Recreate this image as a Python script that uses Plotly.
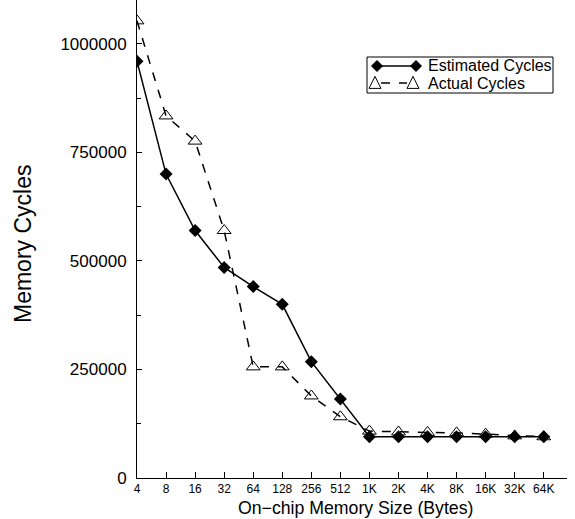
import plotly.graph_objects as go

sizes = ["4", "8", "16", "32", "64", "128", "256", "512", "1K", "2K", "4K", "8K", "16K", "32K", "64K"]
estimated = [960000, 700000, 570000, 485000, 441000, 400000, 268000, 182000, 95000, 95000, 95000, 95000, 95000, 95000, 95000]
actual = [1053000, 834000, 776000, 570000, 256000, 256000, 189000, 141000, 108000, 106000, 105000, 104000, 101000, 97000, 95000]
series_names = ["Estimated Cycles", "Actual Cycles"]

xpos = list(range(len(sizes)))

fig = go.Figure()
fig.add_trace(go.Scatter(
    x=xpos, y=estimated, name=series_names[0], mode="lines+markers",
    line=dict(color="black", width=1.5),
    marker=dict(symbol="diamond", size=10, color="black"),
    showlegend=False,
))
fig.add_trace(go.Scatter(
    x=xpos, y=actual, name=series_names[1], mode="lines+markers",
    line=dict(color="black", width=1.5, dash="dash"),
    marker=dict(symbol="triangle-up-open", size=12, color="black", line=dict(width=1)),
    showlegend=False,
))

# plot area in pixels: left 137, right 567, top 0, bottom 478
PL, PR, PT, PB = 137, 567, 0, 478
def px(X):
    return (X - PL) / (PR - PL)
def py(Y):
    return (PB - Y) / (PB - PT)

shapes = []
# legend box
shapes.append(dict(type="rect", xref="paper", yref="paper",
                   x0=px(367), x1=px(553), y0=py(93), y1=py(57),
                   line=dict(color="black", width=1), fillcolor="white", layer="above"))
# row 1: solid line with diamonds
shapes.append(dict(type="line", xref="paper", yref="paper",
                   x0=px(377), x1=px(416), y0=py(66), y1=py(66),
                   line=dict(color="black", width=1.5), layer="above"))
for cx in (377, 416):
    d = 5.5
    path = (f"M {px(cx-d)} {py(66)} L {px(cx)} {py(66-d)} L {px(cx+d)} {py(66)} "
            f"L {px(cx)} {py(66+d)} Z")
    shapes.append(dict(type="path", xref="paper", yref="paper", path=path,
                       fillcolor="black", line=dict(color="black", width=1), layer="above"))
# row 2: dashed line with open triangles
shapes.append(dict(type="line", xref="paper", yref="paper",
                   x0=px(381), x1=px(407), y0=py(83), y1=py(83),
                   line=dict(color="black", width=1.5, dash="dash"), layer="above"))
for cx in (375, 413):
    h = 6
    path = (f"M {px(cx-h)} {py(83+h*0.9)} L {px(cx+h)} {py(83+h*0.9)} "
            f"L {px(cx)} {py(83-h*1.1)} Z")
    shapes.append(dict(type="path", xref="paper", yref="paper", path=path,
                       fillcolor="white", line=dict(color="black", width=1), layer="above"))

font = "Liberation Sans, Arial, sans-serif"
annotations = [
    dict(text=series_names[0], xref="paper", yref="paper", x=px(426), y=py(66),
         xanchor="left", yanchor="middle", showarrow=False, font=dict(size=16)),
    dict(text=series_names[1], xref="paper", yref="paper", x=px(426), y=py(83),
         xanchor="left", yanchor="middle", showarrow=False, font=dict(size=16)),
    dict(text="On\u2212chip Memory Size (Bytes)", xref="paper", yref="paper",
         x=px(355), y=py(507.5), xanchor="center", yanchor="middle",
         showarrow=False, font=dict(size=17.7)),
    dict(text="Memory Cycles", xref="paper", yref="paper",
         x=px(23), y=py(244), xanchor="center", yanchor="middle",
         textangle=-90, showarrow=False, font=dict(size=23)),
]

fig.update_layout(
    width=575, height=519,
    margin=dict(l=PL, r=575 - PR, t=PT, b=519 - PB),
    paper_bgcolor="white", plot_bgcolor="white",
    font=dict(family=font, color="black", size=13),
    showlegend=False,
    xaxis=dict(
        range=[0, 14.8], tickmode="array", tickvals=xpos, ticktext=sizes,
        showline=True, linecolor="black", linewidth=1, showgrid=False, zeroline=False,
        ticks="inside", ticklen=6, tickcolor="black",
        tickfont=dict(size=12), automargin=False,
    ),
    yaxis=dict(
        range=[0, 1101000], tickmode="array",
        tickvals=[0, 250000, 500000, 750000, 1000000],
        ticktext=["0", "250000", "500000", "750000", "1000000"],
        showline=True, linecolor="black", linewidth=1, showgrid=False, zeroline=False,
        ticks="inside", ticklen=5, tickcolor="black",
        minor=dict(tickvals=[125000, 375000, 625000, 875000], ticks="inside", ticklen=4, tickcolor="black"),
        tickfont=dict(size=17), automargin=False, ticklabelstandoff=6,
    ),
    shapes=shapes,
    annotations=annotations,
)

fig.write_html("out.html", config={"displayModeBar": False},
               post_script="document.body.style.margin='0';")
